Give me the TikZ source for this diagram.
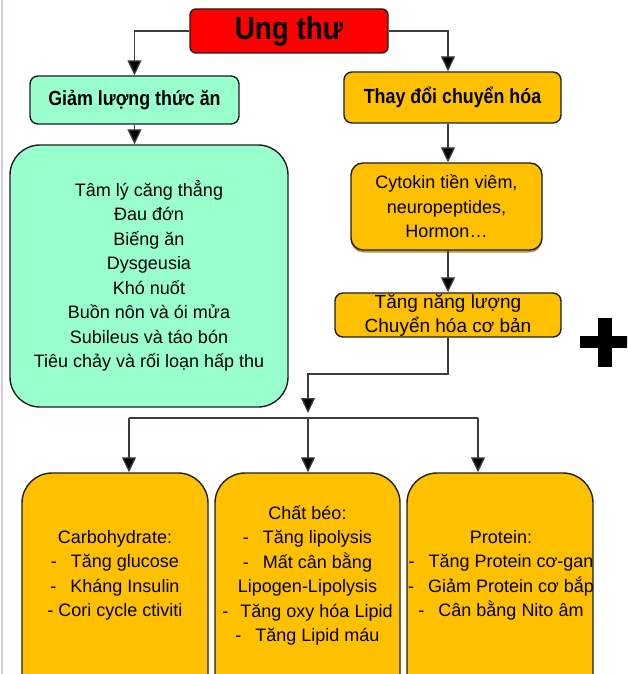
\documentclass[tikz,border=0pt]{standalone}
\usepackage{fontspec}
\setmainfont{Liberation Sans}
\newfontfamily\narrowbf{Liberation Sans}[FakeStretch=0.87]
\usetikzlibrary{arrows.meta,shadows}
\definecolor{ungred}{HTML}{FF0000}
\definecolor{mint}{HTML}{99FFCC}
\definecolor{amber}{HTML}{FFC000}
\definecolor{conn}{HTML}{3C3C3C}
\definecolor{edge}{HTML}{1E1E1E}
\definecolor{lav}{HTML}{D6CCEE}
\begin{document}
\begin{tikzpicture}[x=1pt,y=1pt,
  box/.style={draw=edge, line width=1.4pt, rounded corners=8pt, inner sep=0pt, align=center},
  bigbox/.style={box, rounded corners=30pt},
  body/.style={font=\fontsize{18}{24.5}\selectfont, align=center, inner sep=0pt},
  head/.style={font=\fontsize{20.5}{24}\selectfont\narrowbf\bfseries},
  line/.style={draw=conn, line width=1.3pt},
  arr/.style={line, -{Triangle[length=15pt,width=14pt,fill=black]}}
]
\useasboundingbox (0,0) rectangle (627,-674);
\clip (0,0) rectangle (627,-674);
\fill[white] (0,0) rectangle (627,-674);
\draw[lav, line width=2pt] (2,0) -- (2,-674);

% top
\node[box, fill=ungred, minimum width=198, minimum height=44, rounded corners=6pt,
      font=\fontsize{32}{36}\selectfont\narrowbf\bfseries] (ung) at (289,-31) {Ung thư};
\node[box, fill=mint, minimum width=209, minimum height=48, head] (giam) at (134.5,-100) {Giảm lượng thức ăn};
\node[box, fill=amber, minimum width=217, minimum height=51, head] (thay) at (452.5,-97.5) {Thay đổi chuyển hóa};

% left big box
\node[bigbox, fill=mint, minimum width=278, minimum height=262, body] (green) at (149,-276)
  {Tâm lý căng thẳng\\Đau đớn\\Biếng ăn\\Dysgeusia\\Khó nuốt\\Buồn nôn và ói mửa\\Subileus và táo bón\\Tiêu chảy và rối loạn hấp thu};

% right column
\node[box, fill=amber, rounded corners=12pt, minimum width=191, minimum height=87, body,
      drop shadow={shadow xshift=0pt, shadow yshift=-2.5pt, fill=black!40!amber, opacity=0.7}] (cyto) at (446.5,-206.5)
  {Cytokin tiền viêm,\\neuropeptides,\\Hormon…};
\node[box, fill=amber, minimum width=226, minimum height=44, body, font=\fontsize{19}{24}\selectfont] (tang) at (448,-315)
  {Tăng năng lượng\\Chuyển hóa cơ bản};

% plus sign
\fill[black] (580,-336) rectangle (632,-348);
\fill[black] (598,-318) rectangle (612,-367);

% bottom boxes
\node[bigbox, fill=amber, minimum width=186, minimum height=237] (carb) at (115,-591.5) {};
\node[bigbox, fill=amber, minimum width=185, minimum height=237] (fat) at (307.5,-591.5) {};
\node[bigbox, fill=amber, minimum width=186, minimum height=237] (prot) at (500,-591.5) {};
\node[body] (carbt) at (115,-575.5)
  {Carbohydrate:\\-\hspace{14pt}Tăng glucose\\-\hspace{14pt}Kháng Insulin\\- Cori cycle ctiviti};
\node[body] (fatt) at (307.5,-575.5)
  {Chất béo:\\-\hspace{14pt}Tăng lipolysis\\-\hspace{14pt}Mất cân bằng\\Lipogen-Lipolysis\\-\hspace{12pt}Tăng oxy hóa Lipid\\-\hspace{14pt}Tăng Lipid máu};
\node[body] (prott) at (501,-575.5)
  {Protein:\\-\hspace{14pt}Tăng Protein cơ-gan\\-\hspace{14pt}Giảm Protein cơ bắp\\-\hspace{14pt}Cân bằng Nito âm};

% connectors
\draw[arr] (ung.west) -| (giam.north);
\draw[arr] (ung.east) -| (thay.north -| tang.north);
\draw[arr] (giam.south) -- (giam.south |- green.north);
\draw[arr] (thay.south -| tang.north) -- (cyto.north -| tang.north);
\draw[arr] (cyto.south -| tang.north) -- (tang.north);
\coordinate (bend) at (308,-374);
\coordinate (bustop) at (308,-413);
\draw[arr] (tang.south) |- (bend) -- (bustop);
\coordinate (b1) at (129,-418);
\coordinate (b2) at (308,-418);
\coordinate (b3) at (478,-418);
\draw[line] (b1) -- (b3);
\draw[arr] (b1) -- (b1 |- carb.north);
\draw[arr] (b2) -- (b2 |- fat.north);
\draw[arr] (b3) -- (b3 |- prot.north);
\end{tikzpicture}
\end{document}
